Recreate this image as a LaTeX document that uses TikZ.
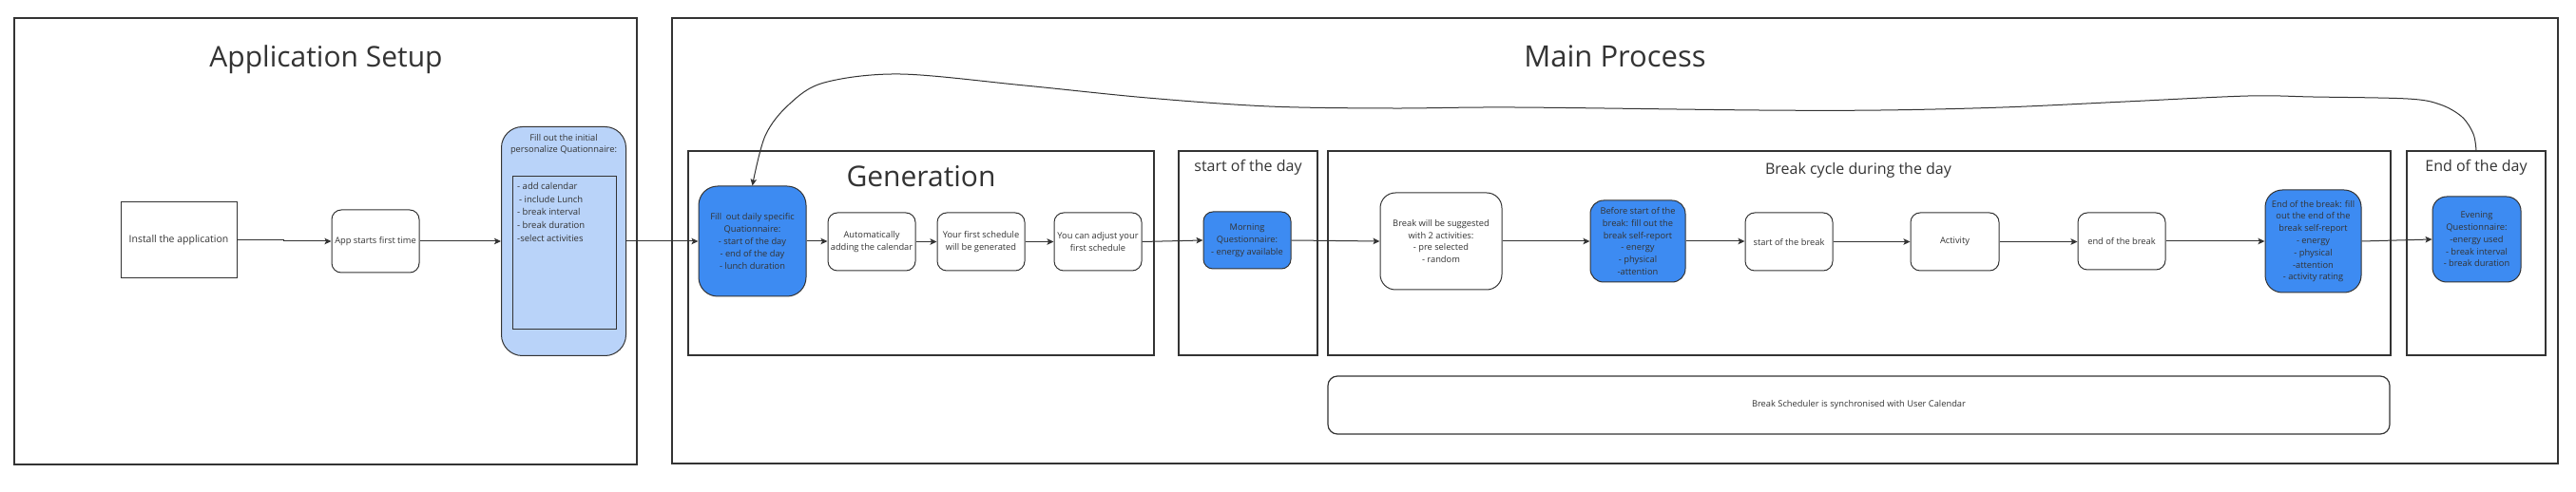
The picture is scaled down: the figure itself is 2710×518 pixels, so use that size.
\documentclass[tikz,border=0pt]{standalone}
\usepackage{fontspec}
\setmainfont{Open Sans}
\usetikzlibrary{arrows.meta}
\definecolor{lncol}{HTML}{333333}
\definecolor{txt}{HTML}{333333}
\definecolor{qblue}{HTML}{3D8BF2}
\definecolor{lblue}{HTML}{B9D3F9}
\newcommand\myfs[2]{\fontsize{#1}{#2}\selectfont}
\begin{document}
\begin{tikzpicture}[x=1pt,y=-1pt,
  txtbase/.style={font=\myfs{9.3}{12.8}, align=center, text=txt, inner sep=0pt},
  rbox/.style={txtbase, draw=lncol, line width=1pt, rounded corners=10pt, fill=white},
  bbox/.style={rbox, fill=qblue},
  frame/.style={draw=lncol, line width=1.2pt, inner sep=0pt},
  ttl/.style={font=\myfs{#1}{#1}, text=txt, anchor=base, inner sep=0pt},
  arr/.style={draw=lncol, line width=1pt, -{Stealth[length=7pt,width=6.5pt,inset=1.5pt]}}
]
\useasboundingbox (0,0) rectangle (2710,518);

% frames
\node[frame, minimum width=655pt, minimum height=470pt] (setupframe) at (342.5,254) {};
\node[frame, minimum width=1984pt, minimum height=469pt] (mainframe) at (1699,253.5) {};
\node[frame, minimum width=490pt, minimum height=215pt] (genframe) at (969,266.5) {};
\node[frame, minimum width=146pt, minimum height=215pt] (sodframe) at (1313,266.5) {};
\node[frame, minimum width=1118pt, minimum height=215pt] (bcframe) at (1956,266.5) {};
\node[frame, minimum width=146pt, minimum height=215pt] (eodframe) at (2605,266.5) {};
\node[rbox, line width=1.2pt, minimum width=1117pt, minimum height=61pt] (syncbar) at (1955.5,426.5)
  {Break Scheduler is synchronised with User Calendar};

% titles
\node[ttl=30] (tsetup) at (343,71) {Application Setup};
\node[ttl=31] (tmain) at (1699,71) {Main Process};
\node[ttl=30] (tgen) at (969,197) {Generation};
\node[ttl=16] (tsod) at (1313,181) {start of the day};
\node[ttl=16] (tbc) at (1955,184) {Break cycle during the day};
\node[ttl=16] (teod) at (2605,181) {End of the day};

% application setup
\node[txtbase, draw=lncol, line width=1pt, font=\myfs{10.5}{13}, minimum width=122pt, minimum height=80pt] (install) at (188,253) {Install the application};
\node[rbox, minimum width=92pt, minimum height=66pt] (app) at (395,254) {App starts first time};
\node[rbox, fill=lblue, rounded corners=22pt, minimum width=131pt, minimum height=241pt] (initq) at (593,254) {};
\node[txtbase] (initqtitle) at (593,152) {Fill out the initial\\personalize Quationnaire:};
\node[draw=lncol, line width=1pt, inner sep=0pt, minimum width=109pt, minimum height=161pt] (initqinner) at (593.5,266.5) {};
\node[txtbase, font=\myfs{9.5}{13.7}, align=left, anchor=north west] (initqlist) at (544,192)
  {- add calendar\\\hspace*{2pt}- include Lunch\\- break interval\\- break duration\\-select activities};

% generation
\node[bbox, rounded corners=20pt, minimum width=113pt, minimum height=116pt] (dailyq) at (791.5,254)
  {Fill~ out daily specific\\Quationnaire:\\- start of the day\\- end of the day\\- lunch duration};
\node[rbox, minimum width=92pt, minimum height=61pt] (autocal) at (917,254.5) {Automatically\\adding the calendar};
\node[rbox, minimum width=92pt, minimum height=61pt] (firstsch) at (1032,254.5) {Your first schedule\\will be generated};
\node[rbox, minimum width=92pt, minimum height=61pt] (adjust) at (1155,254.5) {You can adjust your\\first schedule};

% start of the day
\node[bbox, minimum width=92pt, minimum height=60pt] (morning) at (1312,253) {Morning\\Questionnaire:\\- energy available};

% break cycle
\node[rbox, rounded corners=16pt, minimum width=128pt, minimum height=102pt] (suggest) at (1516,254)
  {Break will be suggested\\with 2 activities:\\- pre selected\\- random};
\node[bbox, rounded corners=14pt, minimum width=100pt, minimum height=86pt] (before) at (1723,254)
  {Before start of the\\break: fill out the\\break self-report\\- energy\\- physical\\-attention};
\node[rbox, minimum width=92pt, minimum height=61pt] (startb) at (1882,254.5) {start of the break};
\node[rbox, minimum width=93pt, minimum height=61pt] (activity) at (2056.5,254.5) {Activity};
\node[rbox, minimum width=92pt, minimum height=60pt] (endbreak) at (2232,254) {end of the break};
\node[bbox, rounded corners=18pt, minimum width=101pt, minimum height=108pt] (endq) at (2433.5,254)
  {End of the break: fill\\out the end of the\\break self-report\\- energy\\- physical\\-attention\\- activity rating};

% end of the day
\node[bbox, rounded corners=15pt, minimum width=93pt, minimum height=90pt] (evening) at (2605.5,252)
  {Evening\\Questionnaire:\\-energy used\\- break interval\\- break duration};

% connectors
\draw[arr] (install.east) -- ++(49,0) |- (app.west);
\draw[arr] (app.east) -- (app.east -| initq.west);
\draw[arr] (initq.east) -- (initq.east -| dailyq.west);
\draw[arr] (dailyq.east) -- (dailyq.east -| autocal.west);
\draw[arr] (autocal.east) -- (autocal.east -| firstsch.west);
\draw[arr] (firstsch.east) -- (firstsch.east -| adjust.west);
\draw[arr] (adjust.east) -- (morning.west);
\draw[arr] (morning.east) -- (suggest.west);
\draw[arr] (suggest.east) -- (suggest.east -| before.west);
\draw[arr] (before.east) -- (before.east -| startb.west);
\draw[arr] (startb.east) -- (startb.east -| activity.west);
\draw[arr] (activity.east) -- (activity.east -| endbreak.west);
\draw[arr] (endbreak.east) -- (endbreak.east -| endq.west);
\draw[arr] (endq.east) -- (evening.west);

\draw[arr] plot[smooth, tension=0.55] coordinates {(eodframe.north) (2602,141) (2590,123) (2567,110) (2533,104)
  (2433,102) (2365,101) (2236,107) (2107,113) (1979,116) (1850,116) (1593,113) (1464,114) (1335,112)
  (1207,103) (1078,90) (947,78) (867,87) (830,110) (805,143) (dailyq.north)};
\end{tikzpicture}
\end{document}
